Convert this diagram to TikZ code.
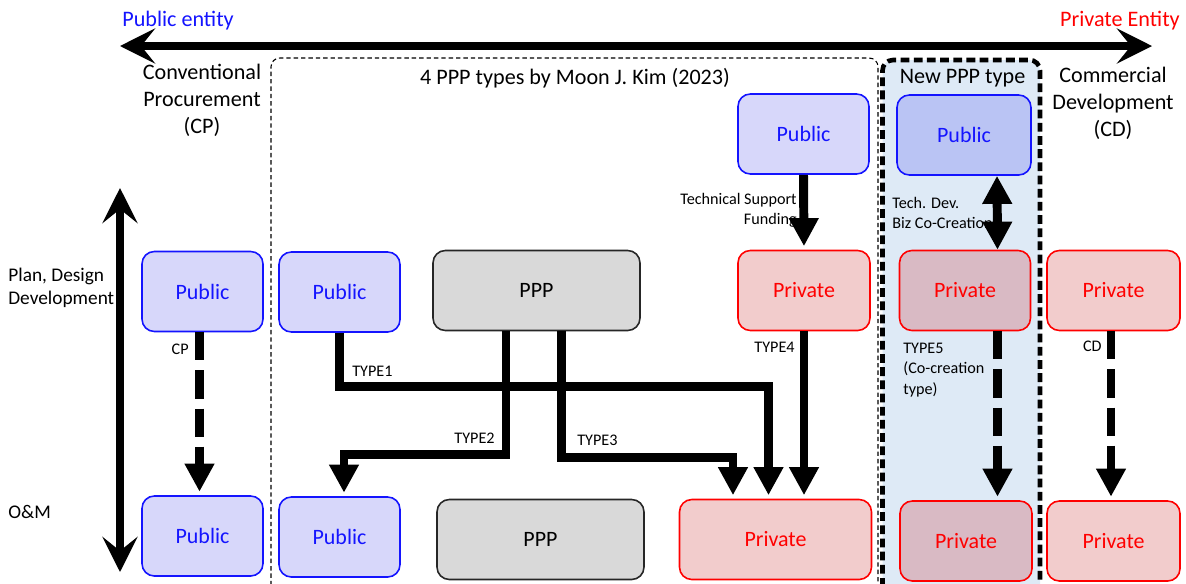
\documentclass[tikz,border=0pt]{standalone}
\usepackage{fontspec}
\setmainfont{Carlito}
\usetikzlibrary{arrows.meta,calc}
\definecolor{pubfill}{RGB}{215,215,250}
\definecolor{publine}{RGB}{20,20,255}
\definecolor{privfill}{RGB}{242,204,204}
\definecolor{privline}{RGB}{255,0,0}
\definecolor{pppfill}{RGB}{217,217,217}
\definecolor{newfill}{RGB}{222,234,246}
\definecolor{newpubfill}{RGB}{186,196,244}
\definecolor{newprivfill}{RGB}{217,186,196}
\tikzset{
	box/.style={rounded corners=7pt, line width=0.9pt, inner sep=0pt, minimum height=1.6cm, font=\fontsize{12.5}{15}\selectfont},
	pub/.style={box, draw=publine, fill=pubfill, text=publine},
	priv/.style={box, draw=privline, fill=privfill, text=privline},
	ppp/.style={box, draw=black!85, fill=pppfill},
	conn/.style={line width=5.1pt, -{Triangle[length=16pt,width=16pt]}, shorten >=2pt},
	dconn/.style={conn, dash pattern=on 16pt off 5.7pt},
	lbl/.style={font=\fontsize{9.2}{11.6}\selectfont, inner sep=0pt, align=left},
	heading/.style={font=\fontsize{12.6}{15.3}\selectfont, inner sep=0pt, align=center},
	sidelbl/.style={font=\fontsize{11}{13}\selectfont, inner sep=0pt, align=left},
	entityaxis/.style={line width=4.4pt, {Stealth[length=20pt,width=20pt,inset=8pt]}-{Stealth[length=20pt,width=20pt,inset=8pt]}},
}

\begin{document}
\begin{tikzpicture}[x=0.02cm, y=-0.02cm]
			%%%%% START %%%%%
			\useasboundingbox (0, 0) rectangle (1186, 583);
			
			\draw[dashed, dash pattern=on 2.5pt off 1.7pt, line width=0.6pt, rounded corners=5pt] (271, 600) -- (271, 58) -- (878, 58) -- (878, 600);
			\draw[fill=newfill, line width=2.6pt, dash pattern=on 5pt off 2.5pt, rounded corners=6pt] (882.5, 600) -- (882.5, 60) -- (1040, 60) -- (1040, 600);
			
			\node[heading, text=publine, anchor=west] (pubent) at (122, 21) {Public entity};
			\node[heading, text=privline, anchor=east] (privent) at (1180, 21) {Private Entity};
			\draw[entityaxis] (120, 46) -- (1152, 46);
			
			\node[heading] (cphead) at (202, 100) {Conventional\\Procurement\\(CP)};
			\node[heading] (typehead) at (575, 78) {4 PPP types by Moon J. Kim (2023)};
			\node[heading] (newhead) at (962.5, 78) {New PPP type};
			\node[heading] (cdhead) at (1113, 103) {Commercial\\Development\\(CD)};
			
			\draw[entityaxis, line width=4.2pt] (120, 572) -- (120, 188);
			\node[sidelbl, anchor=west] (plan) at (8, 288) {Plan, Design\\Development};
			\node[sidelbl, anchor=west] (om) at (8, 512) {O\&M};
			
			% upper row
			\node[pub, minimum width=2.42cm] (cpTop) at (202.5, 291.5) {Public};
			\node[pub, minimum width=2.42cm] (t1Pub) at (339.5, 292) {Public};
			\node[ppp, minimum width=4.14cm] (pppT) at (536.5, 290.5) {PPP};
			\node[pub, minimum width=2.62cm] (t4Pub) at (803.5, 134) {Public};
			\node[priv, minimum width=2.64cm] (t4Priv) at (804, 290.5) {Private};
			\node[pub, fill=newpubfill, minimum width=2.68cm] (newPub) at (964, 135) {Public};
			\node[priv, fill=newprivfill, minimum width=2.62cm] (newPriv) at (965, 290.5) {Private};
			\node[priv, minimum width=2.66cm] (cdPriv) at (1113.5, 290.5) {Private};
			
			% lower row
			\node[pub, minimum width=2.42cm] (cpBot) at (202.5, 536) {Public};
			\node[pub, minimum width=2.42cm] (t2Pub) at (339.5, 537) {Public};
			\node[ppp, minimum width=4.14cm] (pppB) at (540.5, 539.5) {PPP};
			\node[priv, minimum width=3.84cm] (privB) at (775.5, 539.5) {Private};
			\node[priv, fill=newprivfill, minimum width=2.64cm] (newPrivB) at (966, 541) {Private};
			\node[priv, minimum width=2.66cm] (cdPrivB) at (1113.5, 541) {Private};
			
			% connectors
			\draw[dconn] ($(cpTop.south)+(-3, 0)$) -- ($(cpBot.north)+(-3, 0)$);
			\node[lbl, anchor=east] (cplbl) at (189, 349) {CP};
			
			\coordinate (bend1) at (768.5, 386.5);
			\draw[conn] (t1Pub.south) |- (bend1) -- (bend1 |- privB.north);
			\node[lbl, anchor=west] (type1) at (352, 371) {TYPE1};
			
			\coordinate (bend2) at (344, 454.5);
			\draw[conn] ($(pppT.south)+(-30.5, 0)$) |- (bend2) -- (bend2 |- t2Pub.north);
			\node[lbl, anchor=east] (type2) at (495, 438) {TYPE2};
			
			\coordinate (bend3) at (733, 457.5);
			\draw[conn] ($(pppT.south)+(25, 0)$) |- (bend3) -- (bend3 |- privB.north);
			\node[lbl, anchor=west] (type3) at (577, 440) {TYPE3};
			
			\node[lbl, anchor=east, align=right] (techsup) at (797, 210.5) {Technical Support\\Funding};
			\draw[conn] (t4Pub.south) -- (t4Priv.north);
			\draw[conn] (t4Priv.south) -- (t4Priv.south |- privB.north);
			\node[lbl, anchor=east] (type4) at (795, 347) {TYPE4};
			
			\node[lbl, anchor=west] (techdev) at (892, 213) {Tech. Dev.\\Biz Co-Creation};
			\draw[conn, {Triangle[length=16pt,width=16pt]}-{Triangle[length=16pt,width=16pt]}, shorten >=0pt] ($(newPub.south)+(33, 0)$) -- ($(newPriv.north)+(32.5, 0)$);
			\draw[dconn] ($(newPriv.south)+(32.5, 0)$) -- ($(newPrivB.north)+(31.5, 0)$);
			\node[lbl, anchor=west] (type5) at (903, 370) {TYPE5\\(Co-creation\\type)};
			
			\draw[dconn] ($(cdPriv.south)+(-2.5, 0)$) -- ($(cdPrivB.north)+(-2.5, 0)$);
			\node[lbl, anchor=east] (cdlbl) at (1102, 346) {CD};
			
			%%%%% END %%%%%
\end{tikzpicture}
\end{document}
